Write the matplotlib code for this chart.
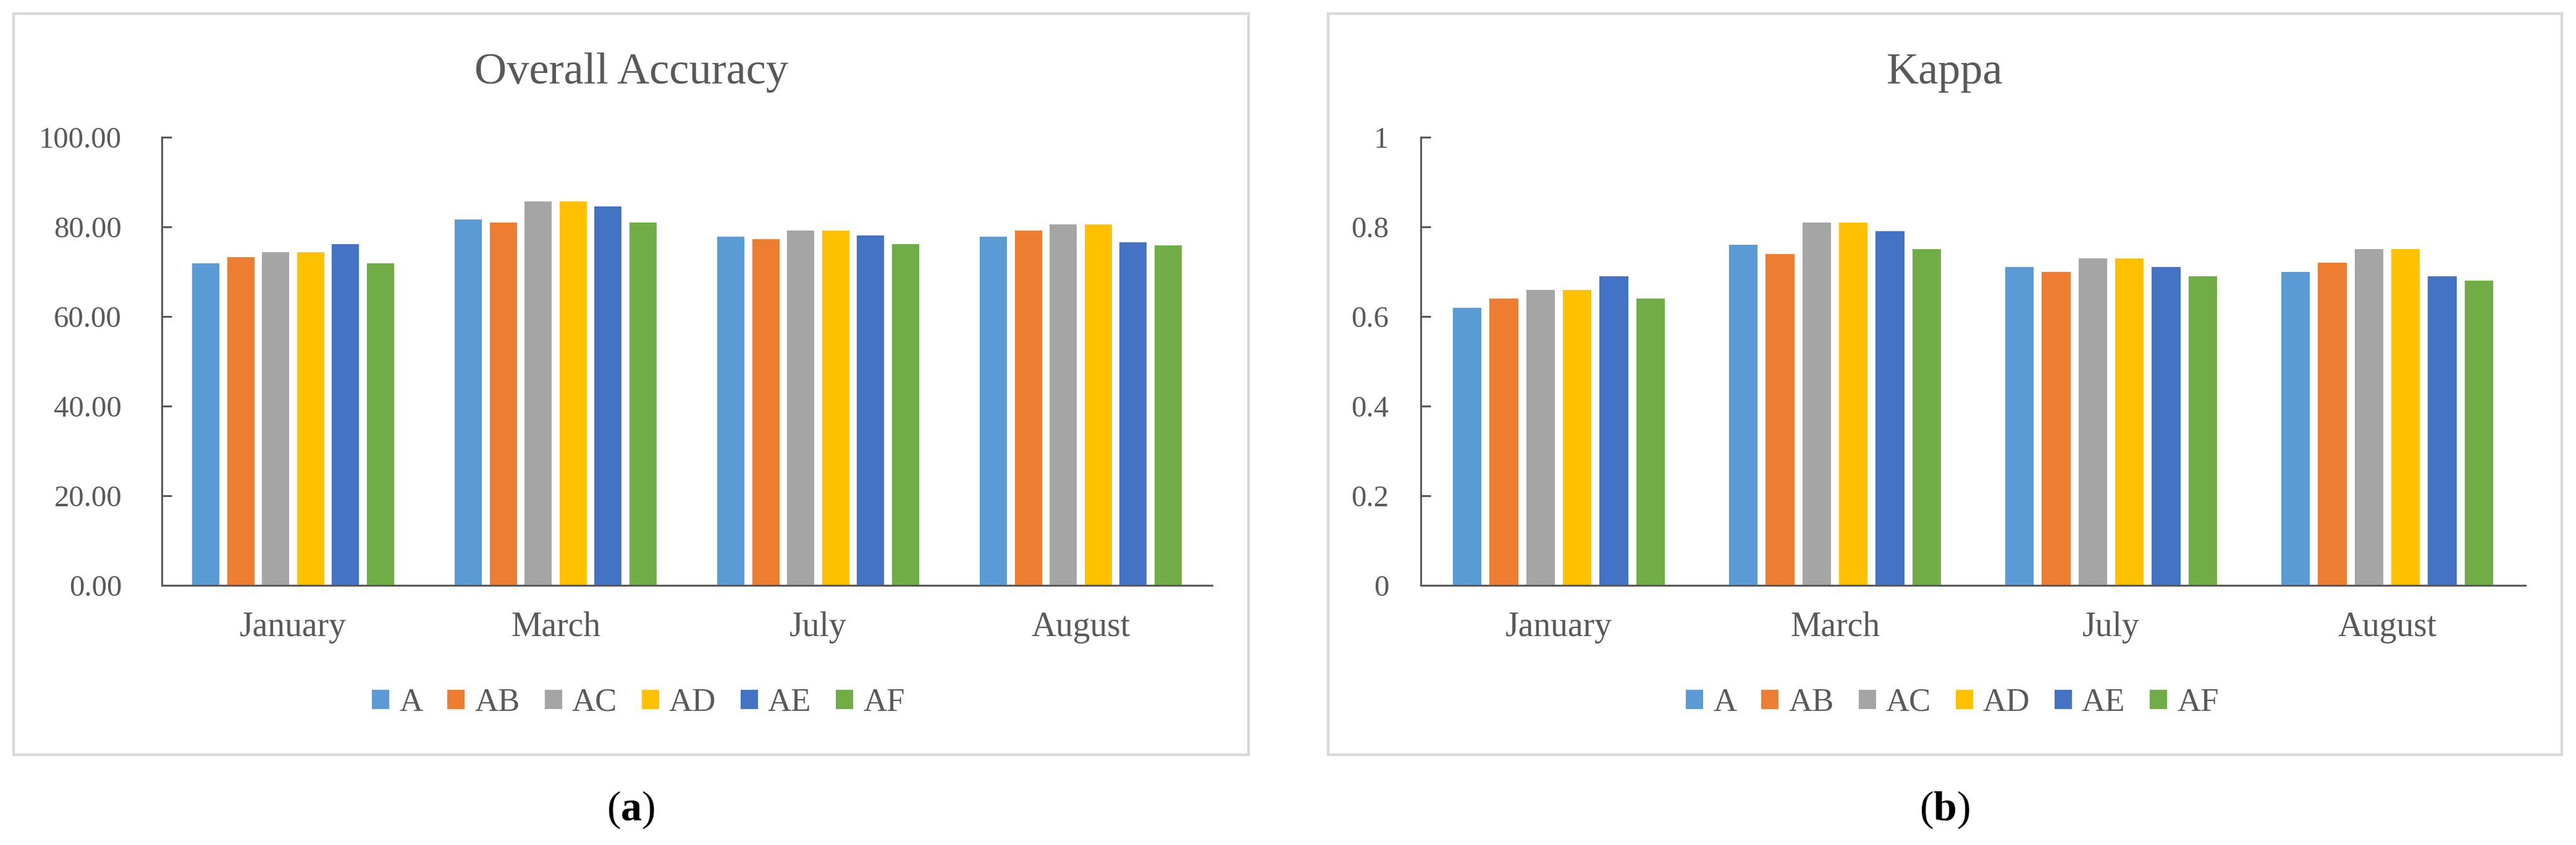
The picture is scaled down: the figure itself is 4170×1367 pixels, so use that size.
import matplotlib
matplotlib.use("Agg")
import matplotlib.pyplot as plt
from matplotlib.patches import Rectangle, Patch
from matplotlib.ticker import FuncFormatter, MultipleLocator

plt.rcParams['font.family'] = ['Liberation Serif', 'DejaVu Serif']
plt.rcParams['mathtext.fontset'] = 'custom'
plt.rcParams['mathtext.rm'] = 'Liberation Serif'
plt.rcParams['mathtext.bf'] = 'Liberation Serif:bold'

# ---- data ----
months = ["January", "March", "July", "August"]
series = ["A", "AB", "AC", "AD", "AE", "AF"]
colors = ["#5B9BD5", "#ED7D31", "#A5A5A5", "#FFC000", "#4472C4", "#70AD47"]

oa_A  = [71.8, 81.7, 77.8, 77.8]
oa_AB = [73.3, 81.0, 77.3, 79.2]
oa_AC = [74.3, 85.7, 79.2, 80.6]
oa_AD = [74.3, 85.7, 79.2, 80.6]
oa_AE = [76.2, 84.6, 78.1, 76.6]
oa_AF = [71.8, 81.0, 76.2, 75.8]

k_A  = [0.62, 0.76, 0.71, 0.70]
k_AB = [0.64, 0.74, 0.70, 0.72]
k_AC = [0.66, 0.81, 0.73, 0.75]
k_AD = [0.66, 0.81, 0.73, 0.75]
k_AE = [0.69, 0.79, 0.71, 0.69]
k_AF = [0.64, 0.75, 0.69, 0.68]

oa_values = [oa_A, oa_AB, oa_AC, oa_AD, oa_AE, oa_AF]
k_values = [k_A, k_AB, k_AC, k_AD, k_AE, k_AF]

W, H = 4170, 1367
fig = plt.figure(figsize=(W / 100, H / 100), dpi=100)
fig.patch.set_facecolor("white")

GRAY = "#595959"
PX = 0.72  # points per pixel at dpi 100


def fx(x):
    return x / W


def fy(y):
    return 1 - y / H


def panel(frame_x0, frame_x1, ax_x0, ax_x1, values, ymax, ystep, fmt, title, caption, ypad):
    # frame
    fig.patches.append(Rectangle((fx(frame_x0), fy(1221)), fx(frame_x1 - frame_x0), (1221 - 22) / H,
                                 transform=fig.transFigure, fill=False, edgecolor="#D9D9D9",
                                 linewidth=3.2, zorder=0))
    ax = fig.add_axes([fx(ax_x0), fy(947), fx(ax_x1 - ax_x0), (947 - 222) / H])
    pitch = 0.133
    bw = 0.104
    for j, (name, vals, c) in enumerate(zip(series, values, colors)):
        xs = [i + (j - 2.5) * pitch for i in range(len(months))]
        ax.bar(xs, vals, width=bw, color=c, label=name, zorder=2)
    ax.set_xlim(-0.5, len(months) - 0.5)
    ax.set_ylim(0, ymax)
    ax.yaxis.set_major_locator(MultipleLocator(ystep))
    ax.yaxis.set_major_formatter(FuncFormatter(fmt))
    ax.set_xticks(range(len(months)))
    ax.set_xticklabels(months)
    for s in ["top", "right"]:
        ax.spines[s].set_visible(False)
    for s in ["left", "bottom"]:
        ax.spines[s].set_color(GRAY)
        ax.spines[s].set_linewidth(3 * PX)
    ax.tick_params(axis="y", direction="in", length=16 * PX, width=3 * PX, color=GRAY,
                   labelcolor=GRAY, labelsize=35, pad=ypad * PX)
    ax.tick_params(axis="x", length=0, labelcolor=GRAY, labelsize=40, pad=30)
    ax.set_facecolor("none")
    cx = (frame_x0 + frame_x1) / 2
    fig.text(fx(cx), fy(135), title, ha="center", va="baseline", fontsize=52, color=GRAY)
    handles = [Patch(facecolor=c, edgecolor="none", label=n) for n, c in zip(series, colors)]
    fig.legend(handles=handles, loc="center", ncol=6, frameon=False,
               bbox_to_anchor=(fx(cx + 12), fy(1137)), bbox_transform=fig.transFigure,
               fontsize=38, handlelength=0.53, handleheight=0.53, handletextpad=0.3,
               columnspacing=0.76, labelcolor=GRAY)
    fig.text(fx(cx), fy(1310), caption, ha="center", va="center", fontsize=49, color="black")
    return ax


panel(22, 2021, 262, 1962, oa_values, 100, 20, lambda v, p: f"{v:.2f}", "Overall Accuracy",
      r"$\mathrm{(}\mathbf{a}\mathrm{)}$", 65)
panel(2150, 4147, 2300, 4088, k_values, 1.0, 0.2, lambda v, p: f"{v:g}", "Kappa",
      r"$\mathrm{(}\mathbf{b}\mathrm{)}$", 52)

fig.savefig("out.png", dpi=100, facecolor="white")
